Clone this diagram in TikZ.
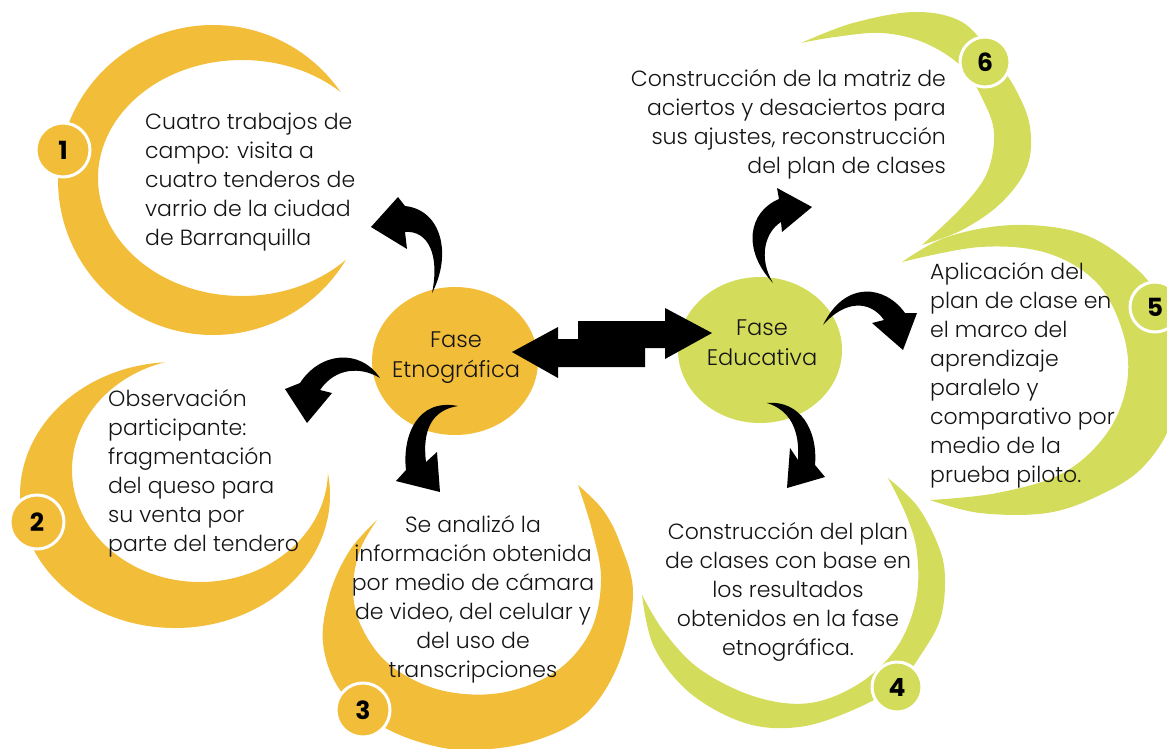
\documentclass[tikz,border=0pt]{standalone}
\usepackage{fontspec}
\setmainfont{Poppins}[UprightFont=* Light, BoldFont=* Bold]
\usetikzlibrary{shapes.geometric}
\definecolor{orng}{RGB}{242,189,57}
\definecolor{lime}{RGB}{212,220,92}
\definecolor{ink}{RGB}{20,20,20}
\tikzset{
  crescO/.style={fill=orng},
  crescG/.style={fill=lime},
  numbase/.style={circle, draw=white, line width=3pt, inner sep=0pt, text=black,
    font=\fontsize{25}{25}\selectfont\bfseries},
  numO/.style={numbase, fill=orng, minimum size=54pt},
  numG/.style={numbase, fill=lime, minimum size=50pt},
  txt/.style={inner sep=0pt, text=ink, font=\fontsize{22}{29}\selectfont},
  phaseO/.style={ellipse, fill=orng, inner sep=0pt},
  phaseG/.style={ellipse, fill=lime, inner sep=0pt},
  phasetxt/.style={inner sep=0pt, text=ink, align=center, font=\fontsize{22.5}{29.5}\selectfont},
  curvarrow/.style={fill=black},
}
\begin{document}
\begin{tikzpicture}[x=1pt,y=-1pt]
\useasboundingbox (0,0) rectangle (1167,748);

% ---------- crescents ----------
% 1
\begin{scope}
  \clip (213,180) circle (155);
  \fill[crescO, even odd rule] (0,0) rectangle (500,400) (242,178) ellipse (144 and 118);
\end{scope}
% 2
\begin{scope}
  \clip (175,495) ellipse (155 and 133);
  \fill[crescO, even odd rule] (0,300) rectangle (400,700) (200,470) ellipse (128 and 112);
\end{scope}
% 3
\fill[crescO] plot[smooth, tension=0.6] coordinates {(377,520) (350,550) (330,593) (323,643) (340,690) (380,725) (430,745) (477,750) (537,740) (587,713) (620,660) (633,593) (620,543) (603,510) (578,485)}
  -- plot[smooth, tension=0.6] coordinates {(578,485) (592,530) (601,580) (590,632) (555,672) (500,693) (440,690) (390,665) (362,628) (353,590) (360,550) (377,520)} -- cycle;
% 4
\fill[crescG] plot[smooth, tension=0.6] coordinates {(888,478) (918,507) (940,550) (945,583) (940,620) (922,653) (897,685) (853,710) (799,727) (745,723) (690,693) (654,647) (642,595)}
  -- plot[smooth, tension=0.6] coordinates {(642,595) (665,633) (701,670) (756,697) (810,703) (860,683) (897,647) (916,600) (917,553) (907,517) (888,478)} -- cycle;
% 5
\fill[crescG] plot[smooth, tension=0.6] coordinates {(902,262) (947,237) (1013,225) (1080,233) (1130,263) (1160,300) (1175,360) (1172,420) (1143,467) (1100,495) (1047,513) (980,513) (930,500)}
  -- plot[smooth, tension=0.6] coordinates {(930,500) (997,493) (1063,473) (1107,433) (1127,383) (1123,333) (1097,283) (1047,253) (980,247) (902,262)} -- cycle;
% 6
\fill[crescG] plot[smooth, tension=0.6] coordinates {(801,43) (853,23) (915,12) (962,22) (992,55) (1016,90) (1030,127) (1027,167) (1001,203) (962,230) (922,245)}
  -- plot[smooth, tension=0.6] coordinates {(922,245) (962,207) (987,173) (994,133) (983,100) (962,67) (925,43) (882,33) (835,37) (801,43)} -- cycle;

% ---------- number badges ----------
\node[numO] (n1) at (63,150) {1};
\node[numO] (n2) at (37,522) {2};
\node[numO] (n3) at (363,710) {3};
\node[numG] (n4) at (897,687) {4};
\node[numG] (n5) at (1155,307) {5};
\node[numG] (n6) at (985,62) {6};

% ---------- phases ----------
\node[phaseO, minimum width=166pt, minimum height=148pt] (etno) at (455,361) {};
\node[phasetxt, anchor=base] (etnot) at (456,377) {Fase\\Etnográfica};
\node[phaseG, minimum width=164pt, minimum height=146pt] (edu) at (760,350) {};
\node[phasetxt, anchor=base] (edut) at (762,365) {Fase\\Educativa};

% ---------- double arrow ----------
\fill[black] (512,352) -- (558,327) -- (558,339) -- (645,339) -- (645,367) -- (558,367) -- (558,378) -- cycle;
\fill[black] (712,333) -- (665,308) -- (665,321) -- (578,321) -- (578,348) -- (665,348) -- (665,359) -- cycle;

% ---------- curved arrows ----------
% to 1
\fill[curvarrow] (432,293) .. controls (452,255) and (442,210) .. (405,206) -- (398,197) -- (371,227) -- (407,249) -- (405,232) .. controls (428,230) and (440,255) .. (432,293) -- cycle;
% to 2
\fill[curvarrow] (380,378) .. controls (360,348) and (320,352) .. (300,383) -- (285,389) -- (307,423) -- (332,393) -- (320,390) .. controls (335,368) and (360,366) .. (380,378) -- cycle;
% to 3
\fill[curvarrow] (458,406) .. controls (418,398) and (402,435) .. (406,470) -- (396,481) -- (440,492) -- (437,452) -- (426,462) .. controls (422,430) and (432,410) .. (458,406) -- cycle;
% to 6
\fill[curvarrow] (773,283) .. controls (742,250) and (748,212) .. (779,199) -- (777,188) -- (812,207) -- (782,232) -- (781,222) .. controls (765,232) and (758,258) .. (773,283) -- cycle;
% to 5
\fill[curvarrow] (823,325) .. controls (845,280) and (885,285) .. (905,313) -- (917,313) -- (903,350) -- (872,323) -- (884,320) .. controls (870,300) and (845,300) .. (823,325) -- cycle;
% to 4
\fill[curvarrow] (767,403) .. controls (800,400) and (818,430) .. (815,465) -- (825,477) -- (787,488) -- (790,448) -- (798,460) .. controls (800,430) and (790,410) .. (767,403) -- cycle;

% ---------- texts (anchor = baseline of last line) ----------
\node[txt, anchor=base west, align=left] (t1) at (145,245) {Cuatro trabajos de\\campo: visita a\\cuatro tenderos de\\varrio de la ciudad\\de Barranquilla};
\node[txt, anchor=base west, align=left] (t2) at (108,551) {Observación\\participante:\\fragmentación\\del queso para\\su venta por\\parte del tendero};
\node[txt, anchor=base, align=center] (t3) at (473,677) {Se analizó la\\información obtenida\\por medio de cámara\\de video, del celular y\\del uso de\\transcripciones};
\node[txt, anchor=base, align=center] (t4) at (788,655) {Construcción del plan\\de clases con base en\\los resultados\\obtenidos en la fase\\etnográfica.};
\node[txt, anchor=base west, align=left] (t5) at (930,482) {Aplicación del\\plan de clase en\\el marco del\\aprendizaje\\paralelo y\\comparativo por\\medio de la\\prueba piloto.};
\node[txt, anchor=base east, align=right] (t6) at (946,173) {Construcción de la matriz de\\aciertos y desaciertos para\\sus ajustes, reconstrucción\\del plan de clases};
\end{tikzpicture}
\end{document}
